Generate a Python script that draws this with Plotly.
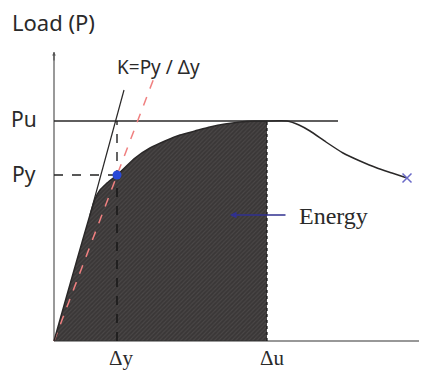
import plotly.graph_objects as go

# curva carga-deslocamento (unidades arbitrárias)
disp = [0, 41, 46, 52, 63, 81, 96, 111, 126, 141, 156, 171, 186, 200, 213, 233, 245, 256, 272, 289, 306, 323, 338, 353]
load = [0, 142, 151, 157, 166, 183, 193, 200, 206, 210, 214, 217, 219, 220, 220, 220, 216, 210, 199, 188, 180, 173, 168, 163]

delta_y = 63
delta_u = 213
p_y = 166
p_u = 220

# rigidez inicial (linha sólida) e secante K=Py/Δy (tracejada)
tang_x = [36, 70]
tang_y = [126, 251]
sec_x = [0, 103]
sec_y = [0, 271]

x_max = 373
y_max = 289

dark = "#2a2828"
fig = go.Figure()

# área de energia (até Δu)
area_x = [d for d in disp if d <= delta_u]
area_y = load[:len(area_x)]
fig.add_trace(go.Scatter(
    x=area_x, y=area_y, mode="lines", fill="tozeroy",
    fillcolor="#3e3b3b", line=dict(width=0, shape="spline", smoothing=0.4),
    fillpattern=dict(shape="/", bgcolor="#3a3737", fgcolor="#5c5858", size=3, solidity=0.35),
))

# eixos
fig.add_trace(go.Scatter(x=[0, 0], y=[0, y_max], mode="lines", line=dict(color="#555", width=1.2)))
fig.add_trace(go.Scatter(x=[0, x_max], y=[0, 0], mode="lines", line=dict(color="#333", width=1.2)))

# Pu horizontal
fig.add_trace(go.Scatter(x=[0, 284], y=[p_u, p_u], mode="lines", line=dict(color=dark, width=1.3)))

# linhas tracejadas de Py e Δy, Δu
fig.add_trace(go.Scatter(x=[0, delta_y], y=[p_y, p_y], mode="lines",
                         line=dict(color="#222", width=1.3, dash="dash")))
fig.add_trace(go.Scatter(x=[delta_y, delta_y], y=[0, p_u], mode="lines",
                         line=dict(color="#111", width=1.3, dash="dash")))
fig.add_trace(go.Scatter(x=[delta_u, delta_u], y=[0, p_u], mode="lines",
                         line=dict(color="#1a1a1a", width=1.3, dash="dot")))

# linha de rigidez
fig.add_trace(go.Scatter(x=tang_x, y=tang_y, mode="lines", line=dict(color=dark, width=1.2)))
fig.add_trace(go.Scatter(x=sec_x, y=sec_y, mode="lines",
                         line=dict(color="#f08080", width=1.5, dash="dash")))

# curva
fig.add_trace(go.Scatter(x=disp, y=load, mode="lines",
                         line=dict(color=dark, width=1.5, shape="spline", smoothing=0.4)))

# pontos
fig.add_trace(go.Scatter(x=[delta_y], y=[p_y], mode="markers",
                         marker=dict(color="#2848d8", size=9, symbol="circle")))
fig.add_trace(go.Scatter(x=[disp[-1]], y=[load[-1]], mode="markers",
                         marker=dict(color="#6a6ac8", size=9, symbol="x-thin", line=dict(width=1.5, color="#6a6ac8"))))

sans = "Noto Sans"
serif = "Liberation Serif"
txt = "#2a2a2a"
anns = [
    dict(x=-44, y=319, text="Load (P)", xanchor="left", font=dict(family=sans, size=22, color=txt)),
    dict(x=61, y=274, text="K=Py / Δy", xanchor="left", font=dict(family=sans, size=19, color=txt)),
    dict(x=-30, y=p_u + 2, text="Pu", font=dict(family=sans, size=21, color=txt)),
    dict(x=-30, y=p_y + 1, text="Py", font=dict(family=sans, size=21, color=txt)),
    dict(x=delta_y + 4, y=-17, text="Δy", font=dict(family=serif, size=21, color=txt)),
    dict(x=delta_u + 5, y=-17, text="Δu", font=dict(family=serif, size=21, color=txt)),
    dict(x=243, y=125, text="Energy", xanchor="left", font=dict(family=serif, size=24, color=txt)),
]
for a in anns:
    fig.add_annotation(showarrow=False, xref="x", yref="y", **a)

# seta Energy
fig.add_annotation(x=176, y=126, ax=233, ay=126, xref="x", yref="y", axref="x", ayref="y",
                   text="", showarrow=True, arrowhead=2, arrowsize=1, arrowwidth=1.3, arrowcolor="#303090")
# ponta do eixo y
fig.add_annotation(x=0, y=y_max, ax=0, ay=y_max - 10, xref="x", yref="y", axref="x", ayref="y",
                   text="", showarrow=True, arrowhead=2, arrowsize=0.6, arrowwidth=1.2, arrowcolor="#555")

# a página tem margem de 8px, por isso a figura é menor
fig.update_layout(
    width=419, height=362, margin=dict(l=0, r=0, t=0, b=0),
    paper_bgcolor="white", plot_bgcolor="white", showlegend=False,
    xaxis=dict(range=[-46, 373], visible=False),
    yaxis=dict(range=[-29, 333], visible=False),
)
fig.write_html("out.html")
